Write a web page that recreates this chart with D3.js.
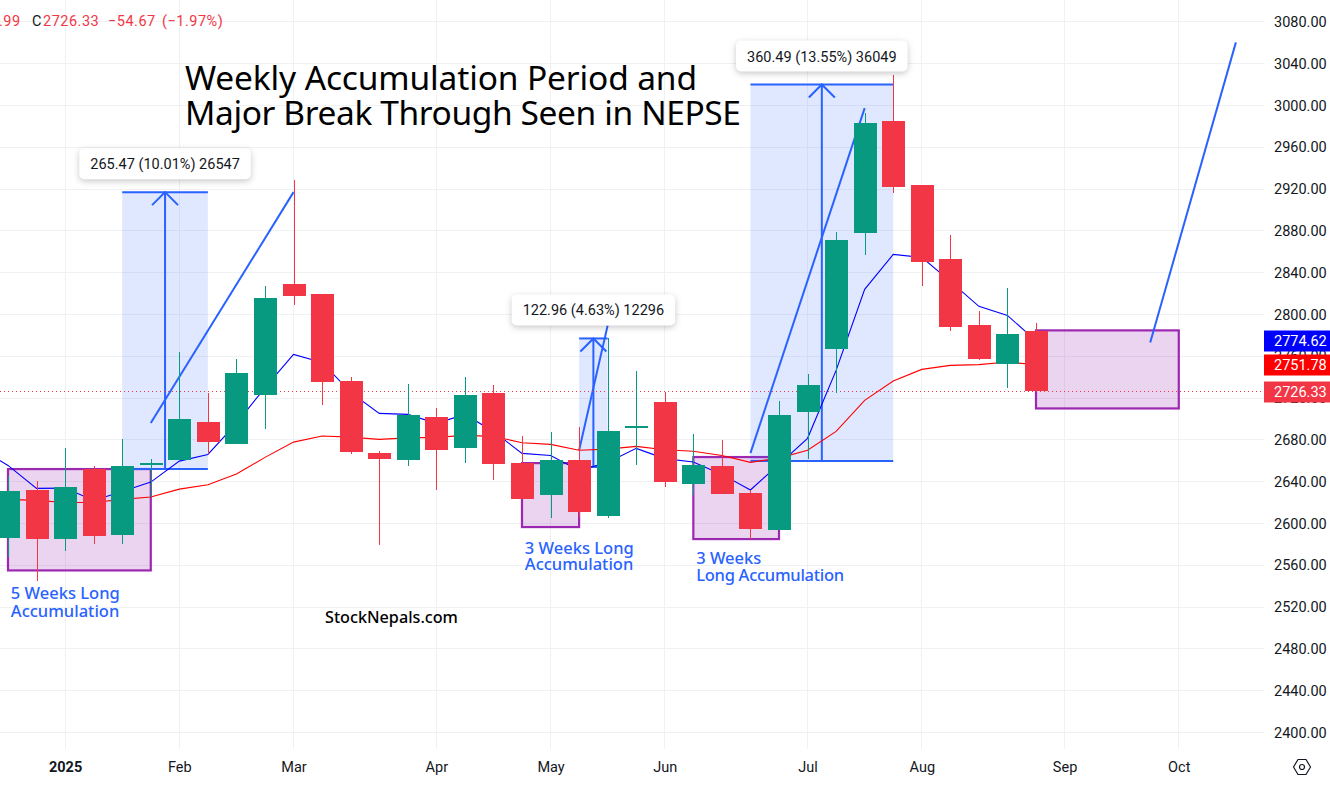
<!DOCTYPE html>
<html lang="en">
<head>
  <meta charset="UTF-8" />
  <title>Weekly Accumulation Period and Major Break Through Seen in NEPSE</title>
  <style>
    html, body { margin: 0; background: #fff; overflow: hidden; }
    svg { display: block; font-family: "Noto Sans", sans-serif; }
  </style>
</head>
<body>
<script src="https://d3js.org/d3.v7.min.js"></script>
<script>
// weekly candles, week 0 is the first one on screen
const opens  = [2586,2632,2585,2652,2588.5,2656,2661,2697,2675.6,2722.5,2828.7,2820,2736,2667,2660.3,2701.4,2672,2724.4,2657.4,2626.8,2661,2606.7,2692,2716,2638,2654.6,2628.7,2593.3,2707,2766.5,2877.5,2984.7,2923.4,2852.6,2789.5,2753,2783.7];
const highs  = [2645,2641,2672,2655,2681,2662,2764,2725,2757,2827,2929,2820,2740,2669,2733,2710,2740,2732,2684,2687,2692,2777,2745.5,2726,2686,2679.4,2632,2717,2742.6,2878.5,2992.3,3028.7,2923.4,2875.6,2802.9,2824.9,2791.4];
const lows   = [2568,2545,2574,2580,2580,2625,2661,2666,2675.6,2690,2808.6,2713,2666,2579,2654.6,2632,2657.4,2642,2623,2604.8,2606,2604.8,2655.5,2635,2627,2627.8,2585,2593.3,2662,2724.4,2856.5,2915.8,2826.8,2783.7,2756,2730,2726.33];
const closes = [2631,2585,2634.5,2588,2654.6,2657.5,2699.5,2677.5,2743.5,2815.3,2817.2,2735,2668,2662,2703.4,2670,2722.5,2656.5,2623,2661,2610.5,2688,2693,2640,2655.5,2627.8,2594.3,2703.4,2732,2870.8,2982.8,2921.5,2849.8,2787.6,2757,2781,2726.33];

// moving averages start one week before the first candle
const maBlue = [2671.8,2655.5,2633.5,2633.8,2622,2630.6,2639.5,2659.6,2666,2695.7,2730,2761.7,2754,2725.4,2705.3,2704.3,2695.7,2704.3,2688,2667,2665,2650.7,2658.4,2671.8,2662,2658.7,2646.9,2632,2656.5,2681.4,2746.4,2824,2857.4,2854.6,2831.6,2807.7,2799,2774.62];
const maRed  = [2625,2623,2622,2620,2620,2623,2625.2,2632.8,2637,2647.2,2663.2,2677.8,2683.6,2682.6,2680.4,2681.8,2682.3,2684.2,2683.3,2677.2,2675.6,2670,2671.1,2673.7,2670.5,2669,2665,2658.4,2662.5,2670,2688,2717.7,2736.2,2747.4,2751.2,2751.9,2754.4,2751.78];

const priceTicks = d3.range(2400, 3081, 40);
const monthWeeks = [2, 6, 10, 15, 19, 23, 28, 32, 37, 41];
const monthLabels = ["2025", "Feb", "Mar", "Apr", "May", "Jun", "Jul", "Aug", "Sep", "Oct"];

// [week from, week to, price top, price bottom]
const boxes = [[0, 5, 2652, 2555], [18, 20, 2657.7, 2596.5], [24, 27, 2663.5, 2585], [36, 41, 2784.7, 2710]];
// [week from, week to, price top, price bottom, label]
const measures = [
  [4, 7, 2917, 2652, "265.47 (10.01%) 26547"],
  [20, 21, 2777, 2654, "122.96 (4.63%) 12296"],
  [26, 31, 3020, 2659.6, "360.49 (13.55%) 36049"]
];
// [week from, price from, week to, price to]
const trends = [[5, 2696, 10, 2917], [20, 2670, 21, 2789.5], [26, 2667.3, 30, 2997.4], [40, 2773.2, 43, 3060.3]];
// [text, week, price]
const notes = [
  ["5 Weeks Long", 0.1, 2527.5], ["Accumulation", 0.1, 2510],
  ["3 Weeks Long", 18.1, 2571], ["Accumulation", 18.1, 2555],
  ["3 Weeks", 24.1, 2561], ["Long Accumulation", 24.1, 2544.5]
];

const green = "#089981", red = "#f23645", drawBlue = "#2962ff", purple = "#9c27b0", ink = "#131722";
const width = 1330, height = 786, plotRight = 1264, plotBottom = 749;

const x = d3.scaleLinear().domain([0, 36]).range([8, 1036]);
const y = d3.scaleLinear().domain([2400, 3080]).range([732.4, 21.8]);

const svg = d3.select("body").append("svg").attr("width", width).attr("height", height);
svg.append("clipPath").attr("id", "plot").append("rect").attr("width", plotRight).attr("height", plotBottom);

// grid
const grid = svg.append("g").attr("stroke", "#f0f1f3").attr("shape-rendering", "crispEdges");
grid.selectAll("line.h").data(priceTicks).join("line").attr("class", "h")
  .attr("x1", 0).attr("x2", plotRight).attr("y1", d => y(d)).attr("y2", d => y(d));
grid.selectAll("line.v").data(monthWeeks).join("line").attr("class", "v")
  .attr("x1", d => x(d)).attr("x2", d => x(d)).attr("y1", 0).attr("y2", plotBottom);

// axes
const yAxis = svg.append("g").attr("transform", `translate(${plotRight},0)`)
  .call(d3.axisRight(y).tickValues(priceTicks).tickFormat(d3.format(".2f")).tickSize(0).tickPadding(10));
const xAxis = svg.append("g").attr("transform", `translate(0,${plotBottom})`)
  .call(d3.axisBottom(x).tickValues(monthWeeks).tickFormat((d, i) => monthLabels[i]).tickSize(0).tickPadding(13));
yAxis.select(".domain").remove();
xAxis.select(".domain").remove();
svg.selectAll(".tick text").attr("fill", ink).style("font", "14.5px Roboto, sans-serif");
xAxis.selectAll(".tick text").filter((d, i) => i === 0).style("font-weight", "700");

const plot = svg.append("g").attr("clip-path", "url(#plot)");

// drawings sit under the candles
plot.selectAll("rect.box").data(boxes).join("rect").attr("class", "box")
  .attr("x", d => x(d[0])).attr("width", d => x(d[1]) - x(d[0]))
  .attr("y", d => y(d[2])).attr("height", d => y(d[3]) - y(d[2]))
  .attr("fill", purple).attr("fill-opacity", 0.2)
  .attr("stroke", purple).attr("stroke-width", 2.2);

const m = plot.selectAll("g.measure").data(measures).join("g").attr("class", "measure").attr("stroke", drawBlue).attr("stroke-width", 2);
m.append("rect")
  .attr("x", d => x(d[0])).attr("width", d => x(d[1]) - x(d[0]))
  .attr("y", d => y(d[2])).attr("height", d => y(d[3]) - y(d[2]))
  .attr("fill", drawBlue).attr("fill-opacity", 0.15).attr("stroke", "none");
[2, 3].forEach(k => {
  m.append("line").attr("x1", d => x(d[0])).attr("x2", d => x(d[1])).attr("y1", d => y(d[k])).attr("y2", d => y(d[k]));
});
const mid = d => x((d[0] + d[1]) / 2);
m.append("line").attr("x1", mid).attr("x2", mid).attr("y1", d => y(d[2])).attr("y2", d => y(d[3]));
m.append("path").attr("fill", "none")
  .attr("d", d => `M${mid(d) - 13},${y(d[2]) + 13}L${mid(d)},${y(d[2])}L${mid(d) + 13},${y(d[2]) + 13}`);

plot.selectAll("line.trend").data(trends).join("line").attr("class", "trend")
  .attr("x1", d => x(d[0])).attr("y1", d => y(d[1])).attr("x2", d => x(d[2])).attr("y2", d => y(d[3]))
  .attr("stroke", drawBlue).attr("stroke-width", 2);

// last price dotted line
plot.append("line").attr("x1", 0).attr("x2", plotRight)
  .attr("y1", y(closes[36])).attr("y2", y(closes[36]))
  .attr("stroke", red).attr("stroke-dasharray", "1 3").attr("shape-rendering", "crispEdges");

// moving averages
const maLine = d3.line().x((d, i) => x(i - 1)).y(d => y(d));
plot.append("path").attr("d", maLine(maRed)).attr("fill", "none").attr("stroke", "#ff0000").attr("stroke-width", 1.1);
plot.append("path").attr("d", maLine(maBlue)).attr("fill", "none").attr("stroke", "#0000ff").attr("stroke-width", 1.1);

// candles
const candle = plot.selectAll("g.candle").data(opens).join("g").attr("class", "candle")
  .attr("shape-rendering", "crispEdges")
  .attr("fill", (d, i) => closes[i] >= d ? green : red)
  .attr("stroke", (d, i) => closes[i] >= d ? green : red);
candle.append("line")
  .attr("x1", (d, i) => Math.round(x(i))).attr("x2", (d, i) => Math.round(x(i)))
  .attr("y1", (d, i) => y(highs[i])).attr("y2", (d, i) => y(lows[i]));
candle.append("rect").attr("stroke", "none")
  .attr("x", (d, i) => Math.round(x(i)) - 11).attr("width", 23)
  .attr("y", (d, i) => y(Math.max(d, closes[i])))
  .attr("height", (d, i) => Math.max(2, Math.abs(y(d) - y(closes[i]))));

// measure labels
measures.forEach(d => {
  const g = svg.append("g");
  const t = g.append("text").attr("x", mid(d)).attr("y", y(d[2]) - 23)
    .attr("text-anchor", "middle").attr("fill", ink)
    .style("font", "14.5px Roboto, sans-serif").text(d[4]);
  const b = t.node().getBBox();
  g.insert("rect", "text").attr("x", mid(d) - b.width / 2 - 11).attr("width", b.width + 22)
    .attr("y", y(d[2]) - 44).attr("height", 31).attr("rx", 5).attr("fill", "#fff")
    .style("filter", "drop-shadow(0 2px 3px rgba(0,0,0,.22))");
});

// free text on the chart
svg.selectAll("text.note").data(notes).join("text").attr("class", "note")
  .attr("x", d => x(d[1])).attr("y", d => y(d[2]))
  .attr("fill", drawBlue).style("font-size", "16.5px").style("font-weight", "500").attr("textLength", d => d[0].length > 12 ? 148 : null).text(d => d[0]);

svg.append("text").attr("x", 185).attr("y", 90).attr("fill", "#000").style("font-size", "33.5px")
  .attr("textLength", 512).text("Weekly Accumulation Period and");
svg.append("text").attr("x", 185).attr("y", 125).attr("fill", "#000").style("font-size", "33.5px")
  .attr("textLength", 556).text("Major Break Through Seen in NEPSE");
svg.append("text").attr("x", 325).attr("y", 623).attr("fill", "#000").style("font-size", "16.2px").style("font-weight", "500").text("StockNepals.com");

// header values, cut by the window edge
const header = svg.append("g").style("font", "14.5px Roboto, sans-serif").style("letter-spacing", "0.5px").attr("fill", red);
header.append("text").attr("x", -1).attr("y", 25.5).text(".99");
header.append("text").attr("x", 32).attr("y", 25.5).attr("fill", ink).text("C");
header.append("text").attr("x", 43).attr("y", 25.5).text("2726.33");
header.append("text").attr("x", 108).attr("y", 25.5).text("\u221254.67");
header.append("text").attr("x", 162).attr("y", 25.5).text("(\u22121.97%)");

// price tags on the axis
const tags = [[maBlue[37], "#0000ff"], [maRed[37], "#ff0000"], [closes[36], red]];
const tag = svg.selectAll("g.tag").data(tags).join("g").attr("class", "tag")
  .attr("transform", d => `translate(${plotRight},${Math.round(y(d[0]) + 0.5)})`);
tag.append("rect").attr("y", -10.5).attr("width", 66).attr("height", 21).attr("fill", d => d[1]);
tag.append("text").attr("x", 10).attr("y", 5).attr("fill", "#fff")
  .style("font", "14.5px Roboto, sans-serif").text(d => d[0].toFixed(2));

// settings icon
const icon = svg.append("g").attr("transform", "translate(1302,767)").attr("fill", "none").attr("stroke", ink).attr("stroke-width", 1.2).attr("stroke-linejoin", "round");
icon.append("path").attr("d", d3.line()([[-8.5, 0], [-4, -7.5], [4, -7.5], [8.5, 0], [4, 7.5], [-4, 7.5]]) + "Z");
icon.append("circle").attr("r", 2.5);
</script>
</body>
</html>
